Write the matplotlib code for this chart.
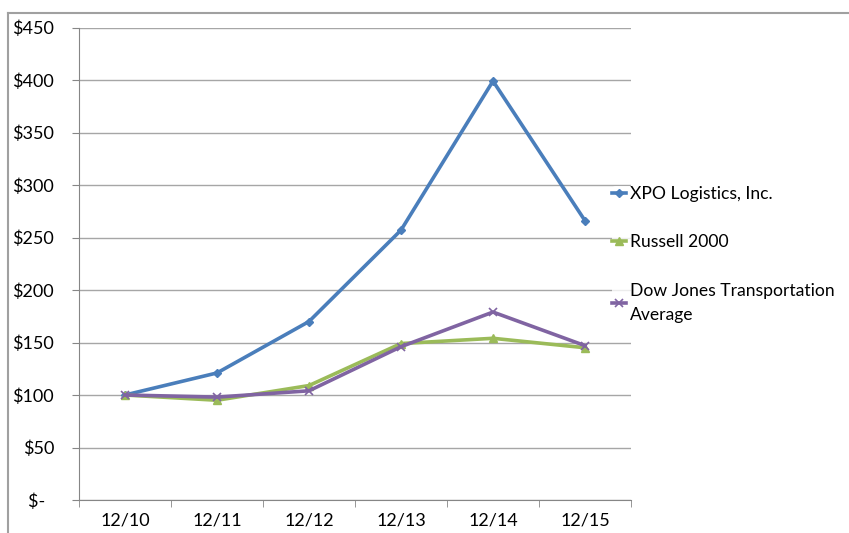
import matplotlib.pyplot as plt
from matplotlib.lines import Line2D

# Cumulative total return data ($100 invested)
years = ["12/10", "12/11", "12/12", "12/13", "12/14", "12/15"]
xpo = [100, 121, 170, 257, 399, 266]
russell = [100, 95, 109, 149, 154, 145]
dow_transport = [100, 98, 104, 146, 179, 147]

y_ticks = [0, 50, 100, 150, 200, 250, 300, 350, 400, 450]
y_labels = ["$-  ", "$50", "$100", "$150", "$200", "$250", "$300", "$350", "$400", "$450"]

plt.rcParams['font.family'] = ['Lato', 'DejaVu Sans']

fig = plt.figure(figsize=(8.49, 5.33), dpi=100)
ax = fig.add_axes([79 / 849, 1 - 500 / 533, 552 / 849, 472.5 / 533])

x = list(range(len(years)))
ax.plot(x, xpo, color='#4A7EBB', lw=2.6, marker='D', ms=4.5, label="XPO Logistics, Inc.", zorder=3)
ax.plot(x, russell, color='#9BBB59', lw=2.6, marker='^', ms=5.5, label="Russell 2000", zorder=3)
ax.plot(x, dow_transport, color='#8064A2', lw=2.6, marker='x', ms=6, mew=1.2,
        label="Dow Jones Transportation\nAverage", zorder=4)

ax.set_xlim(-0.5, len(years) - 0.5)
ax.set_ylim(0, 450)
ax.set_yticks(y_ticks)
ax.set_yticklabels(y_labels)
ax.set_xticks(x)
ax.set_xticklabels(years)
ax.set_xticks([i - 0.5 for i in range(len(years) + 1)], minor=True)

ax.grid(axis='y', color='#A6A6A6', lw=1)
ax.set_axisbelow(True)
for side in ['top', 'right']:
    ax.spines[side].set_visible(False)
for side in ['left', 'bottom']:
    ax.spines[side].set_color('#868686')

ax.tick_params(axis='y', length=5, color='#868686', pad=13, labelsize=13)
ax.tick_params(axis='x', which='major', length=0, pad=9, labelsize=13)
ax.tick_params(axis='x', which='minor', length=5, color='#868686')

leg = ax.legend(loc='center left', bbox_to_anchor=(0.966, 0.52), frameon=True,
                fontsize=12.6, handlelength=0.8, handletextpad=0.2, labelspacing=1.85,
                borderpad=0.0, borderaxespad=0)
leg.get_frame().set_facecolor('white')
leg.get_frame().set_edgecolor('none')
for t in leg.get_texts():
    t.set_linespacing(1.6)

# thin gray frame at top and left edge of the image
fig.add_artist(Line2D([8 / 849, 1], [1 - 13 / 533, 1 - 13 / 533], color='#A0A0A0', lw=1.5))
fig.add_artist(Line2D([8 / 849, 8 / 849], [0, 1 - 13 / 533], color='#A0A0A0', lw=1.5))

fig.savefig("out.png", dpi=100)
